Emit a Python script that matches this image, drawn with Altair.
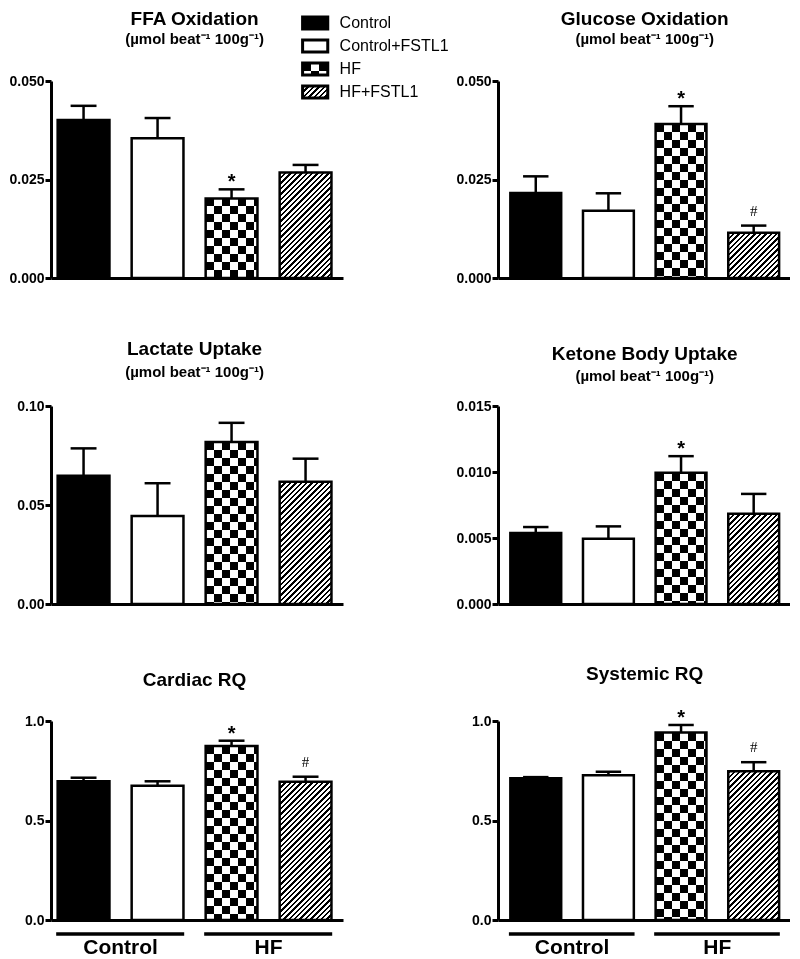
import altair as alt
import pandas as pd

# ---------------- data ----------------
groups = ["Control", "Control+FSTL1", "HF", "HF+FSTL1"]

ffa_mean = [0.0401, 0.0355, 0.0202, 0.0268]
ffa_sem = [0.0036, 0.0051, 0.0023, 0.0019]
ffa_sig = ["", "", "*", ""]

glu_mean = [0.0216, 0.0171, 0.0391, 0.0115]
glu_sem = [0.0042, 0.0044, 0.0045, 0.0018]
glu_sig = ["", "", "*", "#"]

lac_mean = [0.0648, 0.0444, 0.0818, 0.0617]
lac_sem = [0.0138, 0.0166, 0.0097, 0.0117]
lac_sig = ["", "", "", ""]

ket_mean = [0.00537, 0.00494, 0.00994, 0.00684]
ket_sem = [0.00046, 0.00094, 0.00126, 0.00150]
ket_sig = ["", "", "*", ""]

crq_mean = [0.697, 0.675, 0.874, 0.695]
crq_sem = [0.018, 0.022, 0.027, 0.025]
crq_sig = ["", "", "*", "#"]

srq_mean = [0.712, 0.728, 0.942, 0.747]
srq_sem = [0.006, 0.017, 0.038, 0.046]
srq_sig = ["", "", "*", "#"]

ticks_ox = [0, 0.025, 0.05]
ticks_lac = [0, 0.05, 0.10]
ticks_ket = [0, 0.005, 0.010, 0.015]
ticks_rq = [0, 0.5, 1.0]

titles = ["FFA Oxidation", "Glucose Oxidation", "Lactate Uptake",
          "Ketone Body Uptake", "Cardiac RQ", "Systemic RQ"]
unit = "(µmol beat⁻¹ 100g⁻¹)"

bottom_labels = ["Control", "HF"]
bottom_first = [1, 3]
bottom_last = [2, 4]

# ---------------- style ----------------
FONT = "Liberation Sans"
SERIF = "Liberation Serif"
XDOM_L = [0.56, 4.506]
XDOM_R = [0.48, 4.5]
BAR_HALF = 0.35
CAP_HALF = 0.175
CELL = 8
HATCH_P = 5.4
HATCH_LW = 2.4


def band_stops(total, period, black):
    stops = []
    k = 0
    while k * period < total - 1e-9:
        a = k * period / total
        b = min((k * period + black) / total, 1.0)
        c = min((k + 1) * period / total, 1.0)
        stops += [(a, "black"), (b, "black"), (b, "white"), (c, "white")]
        k += 1
    return [{"offset": round(o, 5), "color": col} for o, col in stops]


def checker_cols(w):
    return {"gradient": "linear", "x1": 0, "y1": 0, "x2": 1, "y2": 0,
            "stops": band_stops(w, 2 * CELL, CELL)}


def checker_rows(h):
    return {"gradient": "linear", "x1": 0, "y1": 0, "x2": 0, "y2": 1,
            "stops": band_stops(h, 2 * CELL, CELL)}


def hatch(w, h):
    k = (w + h) / (w * w + h * h)
    return {"gradient": "linear", "x1": 0, "y1": 0,
            "x2": round(w * k, 5), "y2": round(h * k, 5),
            "stops": band_stops(w + h, HATCH_P, HATCH_LW)}


def panel(mean, sem, sig, ymax, ticks, fmt, W, H, xdom, title, subtitle,
          t_dy, s_dy, legend=False, bottom=False):
    df = pd.DataFrame({
        "group": groups,
        "pos": [i + 1 for i in range(len(groups))],
        "mean": mean,
        "top": [m + s for m, s in zip(mean, sem)],
        "sig": sig,
    })
    xs = alt.Scale(domain=xdom, nice=False, zero=False)
    ys = alt.Scale(domain=[0, ymax], nice=False, zero=True)
    xax = alt.Axis(labels=False, ticks=False, grid=False, domainWidth=3,
                   domainColor="black")
    yax = alt.Axis(values=ticks, format=fmt, grid=False, domainWidth=3,
                   domainColor="black", tickColor="black", tickWidth=3,
                   tickSize=6, labelFont=FONT, labelFontSize=14,
                   labelFontWeight="bold", labelColor="black",
                   labelPadding=1, labelOverlap=False)

    def X(f):
        return alt.X(f, type="quantitative", scale=xs, axis=xax, title=None)

    def Y(f):
        return alt.Y(f, type="quantitative", scale=ys, axis=yax, title=None)

    ppu = W / (xdom[1] - xdom[0])
    bw = 2 * BAR_HALF * ppu

    base = alt.Chart(df).transform_calculate(
        lo=f"datum.pos - {BAR_HALF}", hi=f"datum.pos + {BAR_HALF}",
        cl=f"datum.pos - {CAP_HALF}", cr=f"datum.pos + {CAP_HALF}")
    benc = dict(x=X("lo"), x2=alt.X2("hi"), y=Y("mean"), y2=alt.datum(0))

    def only(name):
        return base.transform_filter(alt.datum.group == name)

    h_hf = mean[2] / ymax * H
    h_hff = mean[3] / ymax * H
    layers = [
        only(groups[0]).mark_rect(fill="black").encode(**benc),
        only(groups[1]).mark_rect(fill="white").encode(**benc),
        only(groups[2]).mark_rect(fill=checker_cols(bw)).encode(**benc),
        only(groups[2]).mark_rect(fill=checker_rows(h_hf), blend="difference").encode(**benc),
        only(groups[3]).mark_rect(fill=hatch(bw, h_hff)).encode(**benc),
        base.mark_rect(fillOpacity=0, stroke="black", strokeWidth=2.5).encode(**benc),
        base.mark_rule(color="black", strokeWidth=2.5).encode(
            x=X("pos"), y=Y("mean"), y2=alt.Y2("top")),
        base.mark_rule(color="black", strokeWidth=2.5).encode(
            x=X("cl"), x2=alt.X2("cr"), y=Y("top")),
        base.transform_filter(alt.datum.sig == "*").mark_text(
            font=FONT, fontSize=20, fontWeight="bold", baseline="alphabetic",
            dy=-1, color="black").encode(x=X("pos"), y=Y("top"), text="sig:N"),
        base.transform_filter(alt.datum.sig == "#").mark_text(
            font=SERIF, fontSize=15, baseline="alphabetic",
            dy=-10, color="black").encode(x=X("pos"), y=Y("top"), text="sig:N"),
    ]

    # titles, centred over the bars and placed relative to the plot top
    xc = alt.XDatum(2.5, scale=xs, axis=xax, title=None)
    ytop = alt.YDatum(ymax, scale=ys, axis=yax, title=None)
    tdf = pd.DataFrame({"t": [title]})
    layers.append(alt.Chart(tdf).mark_text(
        font=FONT, fontSize=19, fontWeight="bold", baseline="alphabetic",
        dy=t_dy, color="black").encode(x=xc, y=ytop, text="t:N"))
    if subtitle:
        sdf = pd.DataFrame({"s": [subtitle]})
        layers.append(alt.Chart(sdf).mark_text(
            font=FONT, fontSize=15, fontWeight="bold", baseline="alphabetic",
            dy=s_dy, color="black").encode(x=xc, y=ytop, text="s:N"))

    if legend:
        per_px = ymax / H
        ly0 = ymax + 58 * per_px
        ldy = 23 * per_px
        lh = 6 * per_px
        ldf = pd.DataFrame({"group": groups, "row": list(range(len(groups)))})
        lb = alt.Chart(ldf).transform_calculate(
            x0="3.96", x1="4.30", xl="4.46",
            yc=f"{ly0} - datum.row * {ldy}")
        lb = lb.transform_calculate(y0=f"datum.yc - {lh}", y1=f"datum.yc + {lh}")
        lenc = dict(x=X("x0"), x2=alt.X2("x1"), y=Y("y1"), y2=alt.Y2("y0"))
        lw_px = 0.34 * ppu
        lh_px = 12

        def lonly(name):
            return lb.transform_filter(alt.datum.group == name)

        layers += [
            lonly(groups[0]).mark_rect(fill="black").encode(**lenc),
            lonly(groups[1]).mark_rect(fill="white").encode(**lenc),
            lonly(groups[2]).mark_rect(fill=checker_cols(lw_px)).encode(**lenc),
            lonly(groups[2]).mark_rect(fill=checker_rows(lh_px), blend="difference").encode(**lenc),
            lonly(groups[3]).mark_rect(fill=hatch(lw_px, lh_px)).encode(**lenc),
            lb.mark_rect(fillOpacity=0, stroke="black", strokeWidth=3).encode(**lenc),
            lb.mark_text(align="left", baseline="middle", font=FONT, fontSize=16,
                         color="black").encode(x=X("xl"), y=Y("yc"), text="group:N"),
        ]

    if bottom:
        bdf = pd.DataFrame({"label": bottom_labels, "first": bottom_first,
                            "last": bottom_last})
        bb = alt.Chart(bdf).transform_calculate(
            g0="datum.first - 0.37", g1="datum.last + 0.36",
            gc="(datum.first + datum.last) / 2")
        y0 = alt.YDatum(0, scale=ys, axis=yax, title=None)
        layers += [
            bb.mark_rule(color="black", strokeWidth=3.5, yOffset=14).encode(
                x=X("g0"), x2=alt.X2("g1"), y=y0),
            bb.mark_text(font=FONT, fontSize=21, fontWeight="bold",
                         baseline="alphabetic", dy=34, color="black").encode(
                x=X("gc"), y=y0, text="label:N"),
        ]

    return alt.layer(*layers).properties(width=W, height=H)


WL, WR = 292, 292
p1 = panel(ffa_mean, ffa_sem, ffa_sig, 0.05, ticks_ox, ".3f", WL, 197, XDOM_L,
           titles[0], unit, -56, -37, legend=True)
p2 = panel(glu_mean, glu_sem, glu_sig, 0.05, ticks_ox, ".3f", WR, 197, XDOM_R,
           titles[1], unit, -56, -37)
p3 = panel(lac_mean, lac_sem, lac_sig, 0.10, ticks_lac, ".2f", WL, 198, XDOM_L,
           titles[2], unit, -51, -29)
p4 = panel(ket_mean, ket_sem, ket_sig, 0.015, ticks_ket, ".3f", WR, 198, XDOM_R,
           titles[3], unit, -46, -25)
p5 = panel(crq_mean, crq_sem, crq_sig, 1.0, ticks_rq, ".1f", WL, 199, XDOM_L,
           titles[4], None, -35, 0, bottom=True)
p6 = panel(srq_mean, srq_sem, srq_sig, 1.0, ticks_rq, ".1f", WR, 199, XDOM_R,
           titles[5], None, -41, 0, bottom=True)

# with flush bounds a nested row counts as zero height, so the vertical
# spacing is the distance between the tops of consecutive rows
row1 = alt.hconcat(p1, p2, spacing=155, bounds="flush")
row2 = alt.hconcat(p3, p4, spacing=155, bounds="flush")
row3 = alt.hconcat(p5, p6, spacing=155, bounds="flush")
lower = alt.vconcat(row2, row3, spacing=315, bounds="flush")

chart = alt.vconcat(row1, lower, spacing=325, bounds="flush").properties(
    padding={"top": 2, "left": 0, "right": 0, "bottom": 0},
    background="white"
).configure_view(strokeWidth=0)

chart.save("out.html", embed_options={"renderer": "svg", "actions": False})
